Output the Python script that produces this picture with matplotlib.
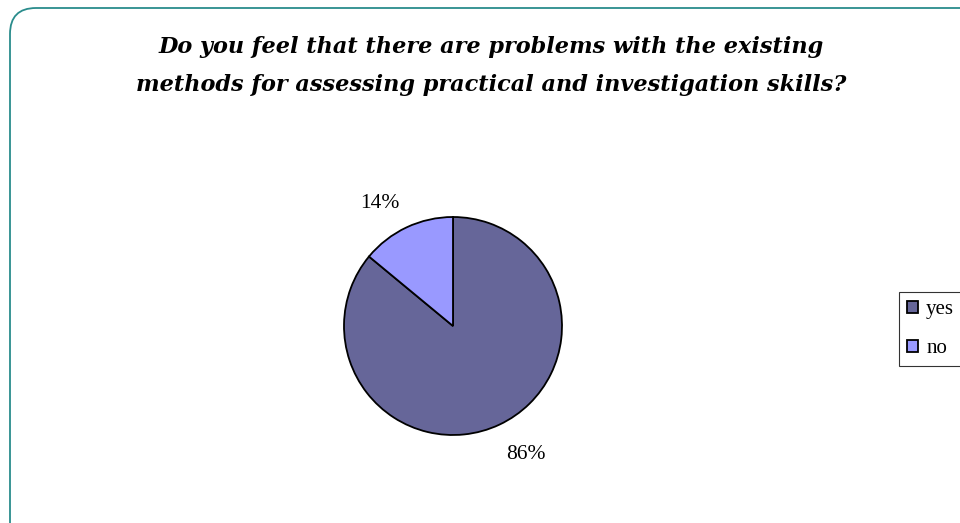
import numpy as np
import matplotlib

matplotlib.use("Agg")
import matplotlib.pyplot as plt
from matplotlib.patches import FancyBboxPatch
from matplotlib.transforms import IdentityTransform

# ── Survey answers ──
categories = ["yes", "no"]
shares = [86, 14]
colors = ["#666699", "#9999FF"]

title = ("Do you feel that there are problems with the existing\n"
         "methods for assessing practical and investigation skills?")

W, H, DPI = 960, 523, 100
fig = plt.figure(figsize=(W / DPI, H / DPI), dpi=DPI, facecolor="white")

# Rounded chart-area frame (runs off the right and bottom edges)
frame = FancyBboxPatch(
    (10, -40), W + 40 - 10, H - 8 + 40,
    boxstyle="round,pad=0,rounding_size=26",
    transform=IdentityTransform(),
    facecolor="none", edgecolor="#2a8c8c", linewidth=1.3, zorder=-1,
)
fig.patches.append(frame)

# Pie placed by pixel centre / radius
cx, cy, r = 453, 326, 109
ax = fig.add_axes([(cx - r) / W, (H - cy - r) / H, 2 * r / W, 2 * r / H])
wedges, _, pct_texts = ax.pie(
    shares,
    colors=colors,
    startangle=90,
    counterclock=False,
    autopct="%d%%",
    pctdistance=1.3,
    wedgeprops=dict(edgecolor="black", linewidth=1.3),
    textprops=dict(family="Liberation Serif", fontsize=15.5, color="black"),
)
# nudge the percentage labels a few degrees round, best-fit style
for w, t in zip(wedges, pct_texts):
    ang = np.deg2rad((w.theta1 + w.theta2) / 2 + 5)
    t.set_position((1.33 * np.cos(ang), 1.33 * np.sin(ang) - 0.03))
ax.set_xlim(-1, 1)
ax.set_ylim(-1, 1)
ax.set_aspect("equal")
ax.axis("off")

fig.text(
    491 / W, 1 - 66 / H, title,
    ha="center", va="center", fontsize=16.1,
    family="DejaVu Serif", fontweight="bold", fontstyle="italic",
    linespacing=1.95,
)

leg = fig.legend(
    wedges, categories,
    loc="upper left", bbox_to_anchor=(899 / W, 1 - 292 / H),
    borderaxespad=0, frameon=True, fancybox=False,
    prop=dict(family="Liberation Serif", size=15),
    handlelength=0.5, handleheight=0.5, handletextpad=0.4,
    labelspacing=0.95, borderpad=0.4,
)
leg.get_frame().set_edgecolor("black")
leg.get_frame().set_linewidth(0.8)

fig.savefig("out.png", dpi=DPI, facecolor="white")
